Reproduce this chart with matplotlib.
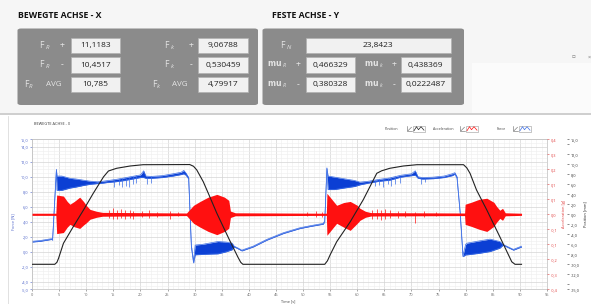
import numpy as np
import matplotlib
matplotlib.use("Agg")
from matplotlib import pyplot as plt
from matplotlib.patches import Rectangle, FancyBboxPatch
from matplotlib.lines import Line2D
from matplotlib.ticker import MultipleLocator

plt.rcParams["font.family"] = ["Open Sans", "DejaVu Sans"]
plt.rcParams["mathtext.fontset"] = "custom"
plt.rcParams["mathtext.rm"] = "Open Sans"
plt.rcParams["mathtext.it"] = "Open Sans:italic"

# ---- values shown in the top panel ----
x_values = ["11,1183", "10,4517", "10,785"]
k_values = ["9,06788", "0,530459", "4,79917"]
fn_value = "23,8423"
mu_r_values = ["0,466329", "0,380328"]
mu_k_values = ["0,438369", "0,0222487"]

# ---- position [mm] (black, right outer axis) ----
pos_t = [0, 4.2, 4.6, 4.9, 5.8, 7.6, 9.5, 11.3, 13.2, 14.1, 15.6, 18.1, 20.5, 29.1,
         29.8, 30.4, 31.6, 32.8, 34.1, 36.5, 38.0, 38.5, 38.9, 54.0, 54.5, 55.0,
         56.2, 58.7, 61.1, 63.6, 64.5, 66.0, 68.5, 71.0, 79.6, 80.2, 80.8, 82.0,
         83.9, 86.3, 88.5, 89.1, 90.3]
pos_mm = [-10, -10, -9.6, -8.8, -5.8, -2.5, 0.86, 4.2, 7.5, 8.66, 9.2, 9.66, 9.92, 9.95,
          9.6, 8.86, 6.5, 3.5, 0.2, -5.3, -8.6, -9.6, -10, -10, -9.3, -8.1,
          -5.5, -1.5, 2.9, 8.2, 8.7, 9.2, 9.66, 9.92, 9.92, 9.3, 8.2, 4.86,
          0.86, -4.5, -9.5, -10, -10]

# ---- acceleration [g] envelope (red, right axis) ----
acc_t = [0.0, 4.4, 4.55, 5.8, 6.5, 7.0, 7.8, 8.8, 9.5, 10.0, 10.7, 11.9, 13.0, 28.5,
         29.8, 31.0, 32.5, 34.1, 35.5, 36.3, 36.6, 37.5, 54.3, 54.4, 55.3, 56.2,
         57.5, 58.7, 60.0, 60.5, 61.5, 62.5, 79.8, 79.9, 81.0, 82.5, 83.9, 85.2,
         85.7, 86.3, 86.8, 87.3, 90.3]
acc_hi = [0.005, 0.005, 0.09, 0.085, 0.06, 0.047, 0.06, 0.08, 0.06, 0.042, 0.023, 0.014, 0.009, 0.006,
          0.042, 0.06, 0.08, 0.093, 0.08, 0.065, 0.015, 0.007, 0.005, 0.098, 0.07, 0.042,
          0.055, 0.06, 0.042, 0.028, 0.014, 0.008, 0.006, 0.047, 0.056, 0.07, 0.075, 0.056,
          0.037, 0.019, 0.028, 0.007, 0.005]
acc_lo = [-0.005, -0.005, -0.09, -0.085, -0.06, -0.047, -0.058, -0.066, -0.05, -0.04, -0.023, -0.014, -0.009, -0.006,
          -0.042, -0.06, -0.08, -0.095, -0.08, -0.065, -0.015, -0.007, -0.005, -0.098, -0.07, -0.042,
          -0.06, -0.075, -0.042, -0.028, -0.014, -0.008, -0.006, -0.047, -0.056, -0.07, -0.08, -0.056,
          -0.037, -0.019, -0.028, -0.007, -0.005]
acc_spike_t = [14.2, 15.0, 15.6, 16.4, 17.2, 18.0, 18.7, 20.2, 21.5, 23.0, 25.5, 27.0, 50.8, 52.4,
               53.5, 62.8, 63.6, 64.4, 65.2, 66.1, 67.5, 68.8, 70.7, 72.4, 74.6]
acc_spike_hi = [0.02, 0.028, 0.018, 0.024, 0.02, 0.022, 0.016, 0.015, 0.018, 0.012, 0.014, 0.01, 0.012, 0.014,
                0.01, 0.02, 0.026, 0.02, 0.024, 0.018, 0.016, 0.015, 0.012, 0.014, 0.01]
acc_spike_lo = [-0.018, -0.022, -0.02, -0.016, -0.022, -0.018, -0.02, -0.014, -0.016, -0.012, -0.02, -0.01, -0.01, -0.012,
                -0.012, -0.02, -0.022, -0.026, -0.02, -0.016, -0.015, -0.014, -0.042, -0.012, -0.01]

# ---- force [N] envelope (blue, left axis) ----
force_t = [0.0, 1.5, 3.6, 3.8, 4.5, 4.6, 5.5, 7.0, 8.2, 9.5, 10.7, 12.1, 13.0, 14.0, 15.5,
           17.0, 18.5, 20.0, 20.6, 21.0, 22.0, 24.0, 26.0, 27.5, 28.0, 28.4, 28.9, 29.4,
           29.8, 30.1, 31.5, 33.0, 34.3, 35.8, 36.9, 37.3, 38.0, 38.7, 40.8, 43.3, 46.4,
           49.4, 51.5, 53.7, 54.0, 54.4, 54.6, 55.8, 57.5, 59.5, 60.5, 62.0, 64.0, 66.0,
           68.0, 70.0, 70.7, 71.2, 72.0, 74.0, 76.0, 77.5, 78.0, 78.4, 79.0, 79.5, 80.0,
           80.3, 82.5, 84.5, 86.3, 86.9, 88.8, 90.3]
force_lo = [1.3, 1.4, 1.65, 1.55, 10.9, 8.2, 8.2, 8.5, 8.65, 8.85, 9.0, 9.1, 9.15, 9.25, 9.35,
            9.5, 9.7, 9.9, 9.9, 9.8, 9.8, 9.9, 10.1, 10.3, 10.4, 10.2, 9.7, 0.6,
            -1.5, -0.4, -0.35, -0.3, -0.27, 0.0, 0.27, 0.65, 0.4, 0.12, 0.65, 1.55, 2.45,
            3.1, 3.4, 3.68, 4.0, 11.1, 8.3, 8.3, 8.5, 8.71, 8.93, 9.15, 9.4, 9.55,
            9.95, 10.15, 10.2, 9.8, 9.7, 9.75, 9.9, 10.15, 10.35, 9.8, 5.0, -0.65, -0.4,
            -0.4, -0.2, 0.04, 0.49, 0.88, 0.22, 0.65]
force_hi = [1.4, 1.5, 1.75, 1.65, 11.0, 10.1, 10.1, 9.8, 9.7, 9.55, 9.42, 9.33, 9.4, 9.5, 9.65,
            9.85, 10.05, 10.25, 10.8, 10.1, 10.05, 10.15, 10.4, 10.6, 10.85, 10.5, 9.9, 0.8,
            -1.3, 0.9, 1.0, 1.2, 1.37, 1.3, 1.16, 0.75, 0.5, 0.22, 0.75, 1.65, 2.55,
            3.2, 3.5, 3.78, 4.1, 11.2, 10.1, 9.96, 9.75, 9.51, 9.29, 9.4, 9.65, 9.85,
            10.2, 10.4, 10.8, 10.0, 9.9, 9.95, 10.1, 10.4, 10.55, 10.0, 5.1, -0.5, 1.0,
            1.16, 1.45, 1.69, 1.37, 0.98, 0.32, 0.75]
force_spike_t = [15.2, 16.0, 16.6, 17.3, 17.9, 18.6, 19.2, 21.3, 22.0, 63.3, 64.0, 64.8, 65.6,
                 66.3, 67.0, 67.8, 71.8, 72.5]
force_spike_lo = [8.7, 8.9, 8.6, 8.8, 8.7, 9.0, 9.2, 9.1, 9.2, 8.8, 8.9, 8.7, 9.0, 8.8, 9.1, 9.2, 9.0, 9.3]
force_spike_hi = [9.6, 9.7, 9.8, 9.9, 10.0, 10.1, 10.2, 10.0, 10.05, 9.55, 9.65, 9.75, 9.85,
                  9.95, 10.05, 10.15, 9.9, 9.9]

left_ticks = [-5, -4, -2, 0, 2, 4, 6, 8, 10, 12, 14, 15]
left_labels = ["-5,0", "-4,0", "-2,0", "0,0", "2,0", "4,0", "6,0", "8,0", "10,0", "12,0", "14,0", "15,0"]
acc_labels = ["-0,4", "-0,3", "-0,2", "-0,1", "-0,1", "0,0", "0,1", "0,1", "0,2", "0,3", "0,4"]
pos_ticks = [-15, -14, -12, -10, -8, -6, -4, -2, 0, 2, 4, 6, 8, 10, 12, 14, 15]
pos_labels = ["-15,0", "", "-12,0", "-10,0", "-8,0", "-6,0", "-4,0", "-2,0", "0,0", "2,0",
              "4,0", "6,0", "8,0", "10,0", "12,0", "", "15,0"]

W, H = 591, 304
BLUE = "#0b3fd4"
BLUE_LINE = "#3d6fe6"
RED = "#ff1010"
BLACK = "#222222"


def fx(x):
    return x / W


def fy(y):
    return 1 - y / H


def rect(fig, x0, y0, x1, y1, **kw):
    fig.patches.append(Rectangle((fx(x0), fy(y1)), (x1 - x0) / W, (y1 - y0) / H,
                                 transform=fig.transFigure, **kw))


def round_box(fig, x0, y0, x1, y1, color):
    fig.patches.append(FancyBboxPatch((fx(x0), fy(y1)), (x1 - x0) / W, (y1 - y0) / H,
                                      boxstyle="round,pad=0,rounding_size=0.006",
                                      transform=fig.transFigure, fc=color, ec="none"))


def value_box(fig, x0, y0, x1, y1, text):
    rect(fig, x0, y0, x1, y1, fc="#f1f1f1", ec="#b0b0b0", lw=0.5)
    fig.text(fx((x0 + x1) / 2), fy((y0 + y1) / 2), text, ha="center", va="center",
             fontsize=6.0, color="#222222")


def lab(fig, x, y, text, ha="left", size=6.2):
    fig.text(fx(x), fy(y), text, ha=ha, va="center", fontsize=size, color="#e4e4e4")


def legend_item(fig, x_text, label, x_icon, color):
    y = 128.7
    fig.text(fx(x_text), fy(y), label, fontsize=2.6, va="center", color="#444444")
    fig.lines.append(Line2D([fx(x_icon), fx(x_icon), fx(x_icon + 5)],
                            [fy(y - 2.5), fy(y + 2.5), fy(y + 2.5)],
                            transform=fig.transFigure, color="#666666", lw=0.4))
    fig.lines.append(Line2D([fx(x_icon + 1), fx(x_icon + 4.5)], [fy(y + 2), fy(y - 1.5)],
                            transform=fig.transFigure, color="#666666", lw=0.4))
    rect(fig, x_icon + 6, y - 3, x_icon + 18, y + 3, fc="none", ec="#9a9a9a", lw=0.4)
    zx = [x_icon + 7, x_icon + 9.5, x_icon + 11.5, x_icon + 14, x_icon + 17]
    zy = [y + 2, y - 2, y + 1, y - 2, y + 1.5]
    fig.lines.append(Line2D([fx(v) for v in zx], [fy(v) for v in zy],
                            transform=fig.transFigure, color=color, lw=0.5))


fig = plt.figure(figsize=(W / 100, H / 100), dpi=100)
fig.patch.set_facecolor("white")

# ---- top panel ----
rect(fig, 0, 0, W, 113, fc="#f6f6f6", ec="none")
rect(fig, 472, 63, W, 113, fc="#fbfbfb", ec="none")
rect(fig, 0, 113, W, 115.5, fc="#cfcfcf", ec="none")
fig.lines.append(Line2D([fx(8.3), fx(8.3)], [fy(116), fy(H)], transform=fig.transFigure,
                        color="#dcdcdc", lw=0.6))

fig.text(fx(18), fy(16), "BEWEGTE ACHSE - X", fontsize=6.3, fontweight="bold", va="center", color="#111111")
fig.text(fx(272), fy(16), "FESTE ACHSE - Y", fontsize=6.3, fontweight="bold", va="center", color="#111111")
fig.text(fx(573), fy(57), "\u25ab", fontsize=4, ha="center", va="center", color="#777777")
fig.text(fx(589), fy(57), "\u00d7", fontsize=4, ha="center", va="center", color="#777777")

round_box(fig, 17.5, 28.5, 258, 105, "#8b8b8b")
round_box(fig, 262.5, 28.5, 464, 105, "#8b8b8b")

rows = [(37.7, 53.3), (57.3, 72.7), (76.7, 92.3)]
for (y0, y1), xv, kv in zip(rows, x_values, k_values):
    value_box(fig, 70.7, y0, 120, y1, xv)
    value_box(fig, 198.3, y0, 247.7, y1, kv)

lab(fig, 39, 45.5, r"F$_{\ R}$")
lab(fig, 62, 45.5, "+", ha="center")
lab(fig, 39, 65, r"F$_{\ R}$")
lab(fig, 62, 65, "-", ha="center")
lab(fig, 24, 84.5, r"F$_{R}$")
lab(fig, 46, 84.5, "AVG", size=5.8)
lab(fig, 164, 45.5, r"F$_{\ k}$")
lab(fig, 191, 45.5, "+", ha="center")
lab(fig, 164, 65, r"F$_{\ k}$")
lab(fig, 191, 65, "-", ha="center")
lab(fig, 152, 84.5, r"F$_{k}$")
lab(fig, 172, 84.5, "AVG", size=5.8)

value_box(fig, 305.7, 37.7, 451, 53.3, fn_value)
lab(fig, 280, 45.5, r"F$_{\ N}$")
for (y0, y1), rv, kv, sign in zip(rows[1:], mu_r_values, mu_k_values, ["+", "-"]):
    value_box(fig, 305.7, y0, 355, y1, rv)
    value_box(fig, 400.7, y0, 450.7, y1, kv)
    yc = (y0 + y1) / 2
    lab(fig, 267, yc, r"$\mathbf{mu}_{\ R}$", size=5.6)
    lab(fig, 298, yc, sign, ha="center")
    lab(fig, 364, yc, r"$\mathbf{mu}_{\ k}$", size=5.6)
    lab(fig, 394, yc, sign, ha="center")

# ---- chart ----
fig.text(fx(34), fy(124), "BEWEGTE ACHSE - X", fontsize=2.8, va="center", color="#333333")
legend_item(fig, 385, "Position", 407, BLACK)
legend_item(fig, 433, "Acceleration", 460, RED)
legend_item(fig, 497, "Force", 513, BLUE_LINE)

ax = fig.add_axes([fx(32), fy(289.3), 515 / W, 150 / H])
ax.set_xlim(0, 95)
ax.set_ylim(-5, 15)
ax.xaxis.set_major_locator(MultipleLocator(5))
ax.xaxis.set_minor_locator(MultipleLocator(1))
ax.set_yticks(left_ticks)
ax.set_yticklabels(left_labels)
ax.yaxis.set_minor_locator(MultipleLocator(0.5))
ax.grid(True, which="major", color="#d4d4d4", lw=0.5)
ax.grid(True, which="minor", color="#eeeeee", lw=0.4)
ax.set_axisbelow(True)
ax.tick_params(axis="both", which="major", labelsize=2.8, length=1.5, width=0.4, pad=1)
ax.tick_params(axis="both", which="minor", length=0)
ax.tick_params(axis="y", colors="#4b62c8")
ax.tick_params(axis="x", colors="#666666")
for s in ax.spines.values():
    s.set_color("#bdbdbd")
    s.set_linewidth(0.5)
ax.set_ylabel("Force [N]", fontsize=2.8, color="#4b62c8")
ax.yaxis.set_label_coords(-0.033, 0.45)
fig.text(fx(288), fy(301), "Time [s]", fontsize=2.8, ha="center", va="center", color="#444444")

ax.fill_between(force_t, force_lo, force_hi, color=BLUE, lw=0)
ax.plot(force_t, force_hi, color=BLUE_LINE, lw=0.5)
ax.plot(force_t, force_lo, color=BLUE_LINE, lw=0.5)
ax.vlines(force_spike_t, force_spike_lo, force_spike_hi, color=BLUE_LINE, lw=0.5)

ax2 = ax.twinx()
ax2.set_ylim(-0.35, 0.35)
ax2.set_yticks(np.linspace(-0.35, 0.35, 11))
ax2.set_yticklabels(acc_labels)
ax2.tick_params(axis="y", labelsize=2.8, length=1.5, width=0.4, pad=1, colors="#e03a3a")
ax2.set_ylabel("Acceleration [g]", fontsize=2.8, color="#e03a3a")
ax2.yaxis.set_label_coords(1.0285, 0.5)
ax2.fill_between(acc_t, acc_lo, acc_hi, color=RED, lw=0)
ax2.vlines(acc_spike_t, acc_spike_lo, acc_spike_hi, color=RED, lw=0.5)
for s in ax2.spines.values():
    s.set_visible(False)

ax3 = ax.twinx()
ax3.set_ylim(-15, 15)
ax3.spines["right"].set_position(("axes", 1 + 20 / 515))
for name, s in ax3.spines.items():
    s.set_visible(False)
ax3.set_yticks(pos_ticks)
ax3.set_yticklabels(pos_labels)
ax3.tick_params(axis="y", labelsize=2.8, length=1.5, width=0.4, pad=1, colors="#333333")
ax3.set_ylabel("Position [mm]", fontsize=2.8, color="#222222")
ax3.yaxis.set_label_coords(1.07, 0.5)
ax3.plot(pos_t, pos_mm, color=BLACK, lw=0.8)

fig.savefig("out.png", dpi=100)
